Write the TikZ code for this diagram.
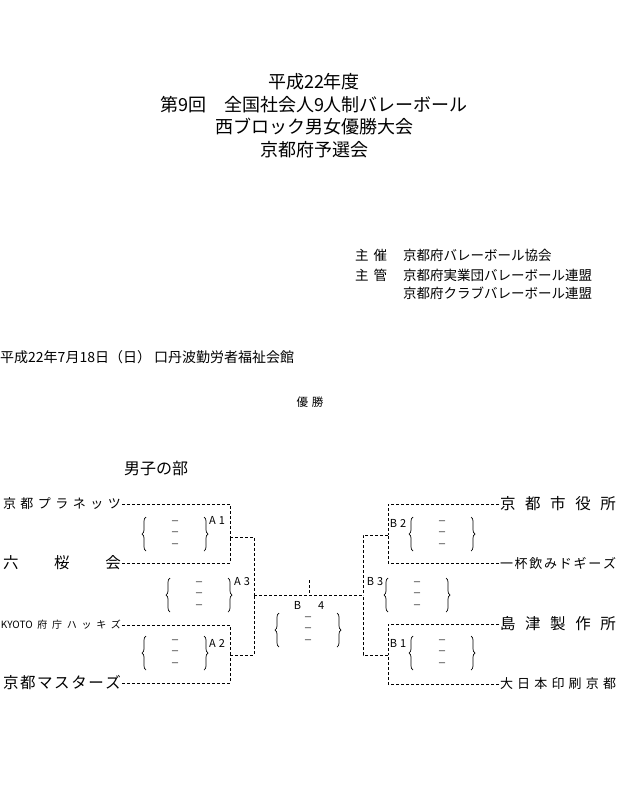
\documentclass[tikz,border=0pt]{standalone}
\usepackage{fontspec}
\setmainfont{Noto Sans CJK JP}
\usetikzlibrary{decorations.pathreplacing}
\newcommand\spreadbox[2]{\makebox[#1][s]{#2}}

\begin{document}
\begin{tikzpicture}[x=1pt, y=-1pt,
  title/.style={font=\fontsize{18}{21}\selectfont, inner sep=0},
  info/.style={font=\fontsize{13.5}{16}\selectfont, inner sep=0, anchor=west},
  teambig/.style={font=\fontsize{15.5}{18}\selectfont, inner sep=0, outer sep=1pt},
  teammid/.style={font=\fontsize{13}{15}\selectfont, inner sep=0, outer sep=1pt},
  teamsmall/.style={font=\fontsize{10}{12}\selectfont, inner sep=0, outer sep=1pt},
  link/.style={draw, dash pattern=on 3pt off 2pt, line width=0.8pt},
  brace/.style={decorate, decoration={brace, amplitude=4pt}, line width=0.7pt},
  score/.style={font=\fontsize{8.5}{9}\selectfont, inner sep=0},
  gamelab/.style={font=\fontsize{11}{11}\selectfont, inner sep=0}]
\useasboundingbox (0,0) rectangle (618,799);
% Title
\node[title] (title1) at (314,82) {平成22年度};
\node[title] (title2) at (314,105) {第9回\hspace{1em}全国社会人9人制バレーボール};
\node[title] (title3) at (314,127) {西ブロック男女優勝大会};
\node[title] (title4) at (314,150) {京都府予選会};
% Organisers
\node[info] (shusai) at (355,255) {主\hspace{5pt}催};
\node[info] (kyokai) at (403,255) {京都府バレーボール協会};
\node[info] (shukan) at (355,275) {主\hspace{5pt}管};
\node[info] (renmei1) at (403,275) {京都府実業団バレーボール連盟};
\node[info] (renmei2) at (403,293) {京都府クラブバレーボール連盟};
% Date and place
\node[info, font=\fontsize{14}{17}\selectfont] (date) at (0,357) {平成22年7月18日（日） 口丹波勤労者福祉会館};
\node[font=\fontsize{11.5}{13}\selectfont, inner sep=0] (yusho) at (310,402) {優\hspace{4pt}勝};
\node[font=\fontsize{16}{19}\selectfont, inner sep=0, anchor=west] (danshi) at (124,468) {男子の部};
% Left teams
\node[teammid, anchor=west] (kplanets) at (2,504) {\spreadbox{118pt}{京\hfill 都\hfill プ\hfill ラ\hfill ネ\hfill ッ\hfill ツ}};
\node[teambig, anchor=west] (rokuoukai) at (2,563) {\spreadbox{118pt}{六\hfill 桜\hfill 会}};
\node[teamsmall, anchor=west] (fuchou) at (0,625) {\spreadbox{120pt}{KYOTO\hfill 府\hfill 庁\hfill ハ\hfill ッ\hfill キ\hfill ズ}};
\node[teambig, anchor=west] (masters) at (2,683) {\spreadbox{118pt}{京\hfill 都\hfill マ\hfill ス\hfill タ\hfill ー\hfill ズ}};
% Right teams
\node[teambig, anchor=west] (shiyakusho) at (499,504) {\spreadbox{116pt}{京\hfill 都\hfill 市\hfill 役\hfill 所}};
\node[teammid, anchor=west] (ippai) at (499,563) {\spreadbox{116pt}{一\hfill 杯\hfill 飲\hfill み\hfill ド\hfill ギ\hfill ー\hfill ズ}};
\node[teambig, anchor=west] (shimadzu) at (499,624) {\spreadbox{116pt}{島\hfill 津\hfill 製\hfill 作\hfill 所}};
\node[teammid, anchor=west] (dainippon) at (499,684) {\spreadbox{116pt}{大\hfill 日\hfill 本\hfill 印\hfill 刷\hfill 京\hfill 都}};
% Junctions
\coordinate (a1) at (230,537);
\coordinate (a2) at (230,655);
\coordinate (a3) at (254,595);
\coordinate (b2) at (388,535);
\coordinate (b1) at (388,655);
\coordinate (b3) at (363,595);
\coordinate (win) at (309,580);
% Bracket lines
\draw[link] (kplanets.east) -| (a1);
\draw[link] (rokuoukai.east) -| (a1);
\draw[link] (a1) -| (a3);
\draw[link] (fuchou.east) -| (a2);
\draw[link] (masters.east) -| (a2);
\draw[link] (a2) -| (a3);
\draw[link] (a3) -- (b3);
\draw[link] (shiyakusho.west) -| (b2);
\draw[link] (ippai.west) -| (b2);
\draw[link] (b2) -| (b3);
\draw[link] (shimadzu.west) -| (b1);
\draw[link] (dainippon.west) -| (b1);
\draw[link] (b1) -| (b3);
\draw[link] (win) -- (win |- a3);
% Score boxes
\foreach \g/\cx/\cy/\lab/\lx/\ly in {a1/175/534/A\hspace{3pt}1/217/520, a3/199/595/A\hspace{3pt}3/242/582,
    a2/175/653/A\hspace{3pt}2/217/643, b4/308/630/B\hspace{17pt}4/309/605,
    b2/442/534/B\hspace{3pt}2/398/523, b3/417/595/B\hspace{3pt}3/375/582, b1/442/653/B\hspace{3pt}1/398/643}{
  \draw[brace] ({\cx-29},{\cy+17}) -- ({\cx-29},{\cy-17});
  \draw[brace] ({\cx+29},{\cy-17}) -- ({\cx+29},{\cy+17});
  \node[score] (\g-s1) at (\cx,{\cy-11.5}) {－};
  \node[score] (\g-s2) at (\cx,\cy) {－};
  \node[score] (\g-s3) at (\cx,{\cy+11.5}) {－};
  \node[gamelab] (\g-lab) at (\lx,\ly) {\lab};
}
\end{tikzpicture}
\end{document}
